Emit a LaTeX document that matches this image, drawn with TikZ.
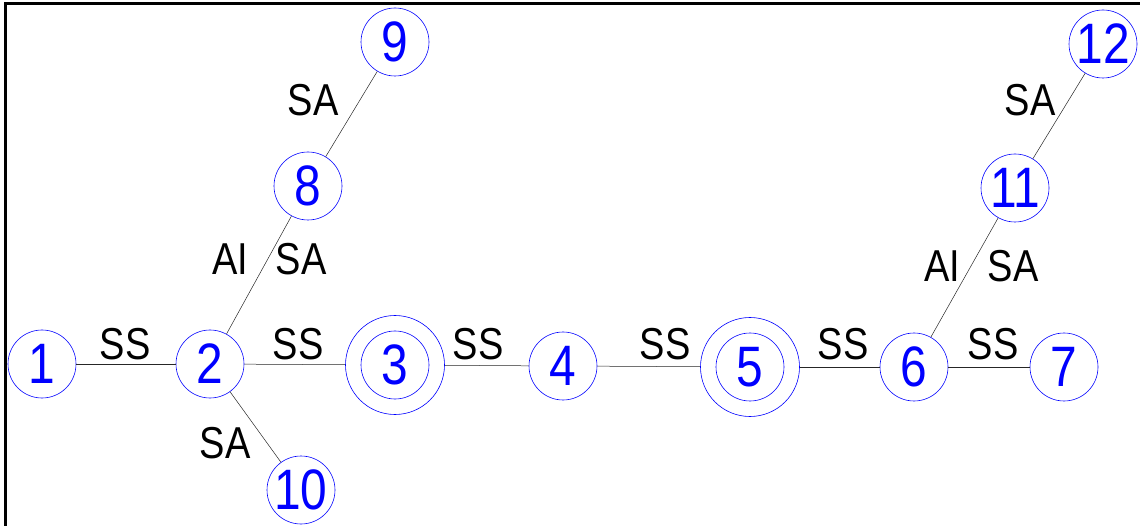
\documentclass[tikz,border=0pt]{standalone}
\usepackage{fontspec}
\setmainfont{Liberation Sans}[FakeStretch=0.85]
\newfontfamily\numfont{Liberation Sans}[FakeStretch=0.84]
\begin{document}
\begin{tikzpicture}[x=1pt,y=-1pt,
  circ/.style={circle,draw=blue,line width=0.6pt,minimum size=68pt,inner sep=0pt,text=blue,font=\numfont\fontsize{57}{57}\selectfont},
  ring/.style={circle,draw=blue,line width=0.6pt,minimum size=99pt,inner sep=0pt},
  edge/.style={draw=black!85,line width=0.5pt},
  lbl/.style={font=\fontsize{44.7}{45}\selectfont,inner sep=0pt,text=black},
  frame/.style={draw=black,line width=3pt}]
\useasboundingbox (0,0) rectangle (1140,526);
\draw[frame] (5.5,530) -- (5.5,3.5) -- (1142,3.5);
% nodes
\node[circ] (n1) at (42,364) {1};
\node[circ] (n2) at (210,364) {2};
\node[circ] (n3) at (395,365) {3};
\node[ring] (n3o) at (n3) {};
\node[circ] (n4) at (563,366) {4};
\node[circ] (n5) at (750,367) {5};
\node[ring] (n5o) at (n5) {};
\node[circ] (n6) at (914,367) {6};
\node[circ] (n7) at (1064,367) {7};
\node[circ] (n8) at (308,186) {8};
\node[circ] (n9) at (395,42) {9};
\node[circ] (n10) at (301,490) {10};
\node[circ] (n11) at (1015,188) {11};
\node[circ] (n12) at (1103,44) {12};
% edges
\draw[edge] (n1) -- (n2);
\draw[edge] (n2) -- (n3o);
\draw[edge] (n3o) -- (n4);
\draw[edge] (n4) -- (n5o);
\draw[edge] (n5o) -- (n6);
\draw[edge] (n6) -- (n7);
\draw[edge] (n2) -- (n8);
\draw[edge] (n8) -- (n9);
\draw[edge] (n2) -- (n10);
\draw[edge] (n6) -- (n11);
\draw[edge] (n11) -- (n12);
% labels
\node[lbl] (l12) at (125,344) {SS};
\node[lbl] (l23) at (298,344) {SS};
\node[lbl] (l34) at (478,344) {SS};
\node[lbl] (l45) at (665,344) {SS};
\node[lbl] (l56) at (843,344) {SS};
\node[lbl] (l67) at (993,344) {SS};
\node[lbl] (l210) at (225,443) {SA};
\node[lbl] (l89) at (313,100) {SA};
\node[lbl] (l28a) at (230,259) {AI};
\node[lbl] (l28b) at (301,259) {SA};
\node[lbl] (l1112) at (1030,100) {SA};
\node[lbl] (l611a) at (942,266) {AI};
\node[lbl] (l611b) at (1013,266) {SA};
\end{tikzpicture}
\end{document}
